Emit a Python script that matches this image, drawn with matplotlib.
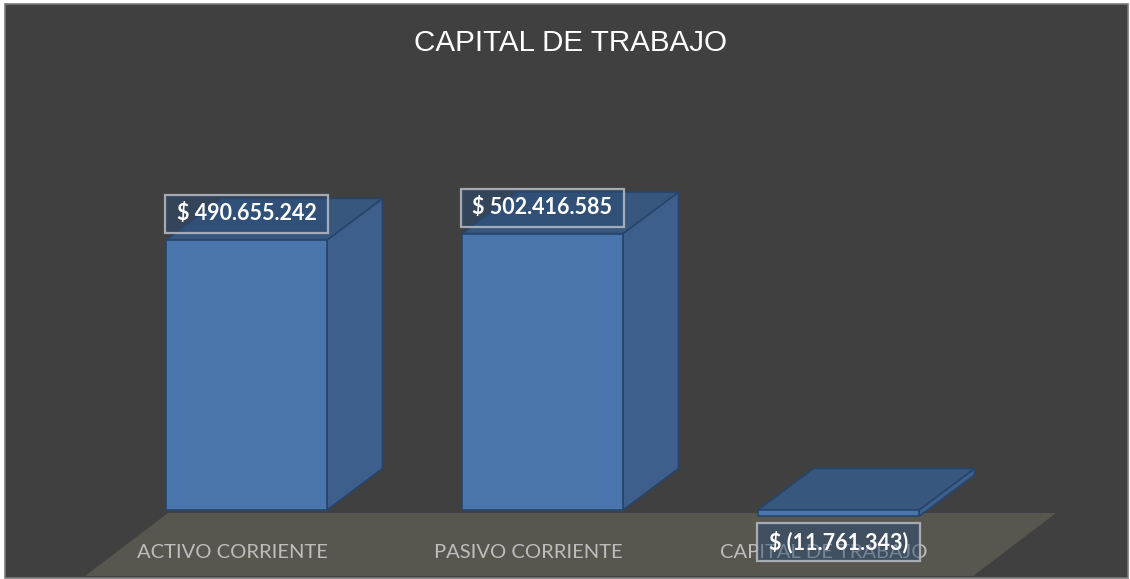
import matplotlib
matplotlib.use("Agg")
import matplotlib.pyplot as plt
from matplotlib.patches import Polygon, Rectangle

# ---- data ----
categories = ["ACTIVO CORRIENTE", "PASIVO CORRIENTE", "CAPITAL DE TRABAJO"]
values = [490655242, 502416585, -11761343]
value_labels = ["$ 490.655.242", "$ 502.416.585", "$ (11.761.343)"]
title = "CAPITAL DE TRABAJO"

# ---- style ----
W, H = 1130, 579
BG = "#404040"
FLOOR = "#58574f"
FRONT = "#4a76ad"
SIDE = "#3e5f8b"
TOP = "#37577f"
EDGE = "#27456c"
BAR_W = 0.544
UNIT_PER_PX = 490655242 / 270.0
DX = 55.5 / 296.0           # depth offset in category units
DY = 41.5 * UNIT_PER_PX      # depth offset in value units

fig = plt.figure(figsize=(W / 100, H / 100), dpi=100)
fig.patch.set_facecolor("white")

ax = fig.add_axes([0, 0, 1, 1])
ax.set_facecolor("none")
ax.set_xlim(-246.5 / 296, (W - 246.5) / 296)
ax.set_ylim((510 - H) * UNIT_PER_PX, 510 * UNIT_PER_PX)
ax.axis("off")

# chart area frame
ax.add_patch(Rectangle((5 / W, 1 / H), 1123 / W, (H - 5) / H, transform=fig.transFigure,
                       facecolor=BG, edgecolor="#7a7a7a", linewidth=1.2, zorder=0))

# floor (decoration, figure pixel coords)
floor_px = [(85, 576), (168, 513), (1056, 513), (973, 576)]
ax.add_patch(Polygon([(x / W, 1 - y / H) for x, y in floor_px], closed=True,
                     transform=fig.transFigure, facecolor=FLOOR, edgecolor="none", zorder=1))

# category labels
for i, c in enumerate(categories):
    ax.text(i - 0.049, 1 - 553 / H, c, transform=ax.get_xaxis_transform(),
            ha="center", va="center", color="#bdbdbd", fontsize=14.5,
            family=["Lato", "DejaVu Sans"], zorder=2)

# 3D bars
for i, v in enumerate(values):
    x0, x1 = i - BAR_W / 2, i + BAR_W / 2
    top, bot = max(v, 0), min(v, 0)
    # side face
    ax.add_patch(Polygon([(x1, bot), (x1 + DX, bot + DY), (x1 + DX, top + DY), (x1, top)],
                         closed=True, facecolor=SIDE, edgecolor=EDGE, linewidth=1.2, zorder=3))
    # top face
    ax.add_patch(Polygon([(x0, top), (x0 + DX, top + DY), (x1 + DX, top + DY), (x1, top)],
                         closed=True, facecolor=TOP, edgecolor=EDGE, linewidth=1.2, zorder=3))
    # front face
    ax.bar(i, v, width=BAR_W, color=FRONT, edgecolor=EDGE, linewidth=1.2, zorder=4)

# value labels
BOX_H = 38 * UNIT_PER_PX
OFF = 26 * UNIT_PER_PX
for i, (v, lab) in enumerate(zip(values, value_labels)):
    yc = v + OFF if v >= 0 else v - OFF
    ax.add_patch(Rectangle((i - 0.548 / 2, yc - BOX_H / 2), 0.548, BOX_H,
                           facecolor="#2c4a72", alpha=0.5, edgecolor="none", zorder=5))
    ax.add_patch(Rectangle((i - 0.548 / 2, yc - BOX_H / 2), 0.548, BOX_H,
                           facecolor="none", edgecolor="#b8bcc4", alpha=0.85, linewidth=1.6, zorder=6))
    ax.text(i, yc, lab, ha="center", va="center", color="white", fontsize=15.5,
            fontweight="bold", family=["Lato", "DejaVu Sans"], zorder=7)

ax.text(571 / W, 1 - 43 / H, title, transform=fig.transFigure, ha="center", va="center",
        color="white", fontsize=21.3, family=["Liberation Sans", "DejaVu Sans"], zorder=8)

fig.savefig("out.png", dpi=100, facecolor=fig.get_facecolor())
